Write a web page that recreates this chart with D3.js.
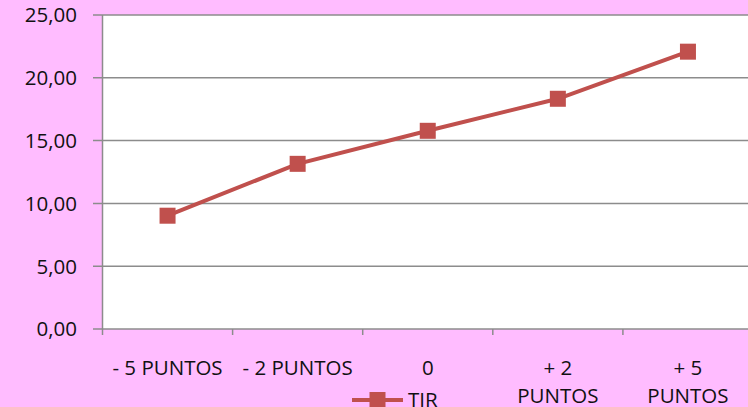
<!DOCTYPE html>
<html>
<head>
<meta charset="utf-8">
<script src="https://cdn.jsdelivr.net/npm/d3@7"></script>
<style>
  body { margin: 0; background: #FFBCFF; }
  svg { display: block; }
</style>
</head>
<body>
<div id="chart"></div>
<script>
var categories = ["- 5 PUNTOS", "- 2 PUNTOS", "0", "+ 2 PUNTOS", "+ 5 PUNTOS"];
var tickLines = [["- 5 PUNTOS"], ["- 2 PUNTOS"], ["0"], ["+ 2", "PUNTOS"], ["+ 5", "PUNTOS"]];
var tirValues = [9.02, 13.15, 15.78, 18.33, 22.08];
var yTicks = [0, 5, 10, 15, 20, 25];
var seriesName = "TIR";

var width = 748, height = 407;
var lineColor = "#C0504D";
var gridColor = "#8C8C8C";

var svg = d3.select("#chart").append("svg")
    .attr("width", width)
    .attr("height", height);

svg.append("rect")
    .attr("width", width).attr("height", height)
    .attr("fill", "#FFBCFF");

// plot area runs past the right edge, like the original crop
var x = d3.scaleBand()
    .domain(categories)
    .range([102.5, 753]);

var y = d3.scaleLinear()
    .domain([0, 25])
    .range([329, 15]);

svg.append("rect")
    .attr("x", 102.5).attr("y", y(25))
    .attr("width", 753 - 102.5).attr("height", y(0) - y(25))
    .attr("fill", "white");

/* horizontal grid lines + y tick marks */
svg.selectAll("line.grid")
    .data(yTicks)
    .enter().append("line")
    .attr("class", "grid")
    .attr("x1", 93).attr("x2", width)
    .attr("y1", function (d) { return y(d); })
    .attr("y2", function (d) { return y(d); })
    .attr("stroke", gridColor)
    .attr("stroke-width", 1.5);

// y axis line
svg.append("line")
    .attr("x1", 102.5).attr("x2", 102.5)
    .attr("y1", y(25)).attr("y2", y(0))
    .attr("stroke", gridColor).attr("stroke-width", 1.5);

svg.selectAll("text.ylab")
    .data(yTicks)
    .enter().append("text")
    .attr("class", "ylab")
    .attr("x", 77)
    .attr("y", function (d) { return y(d); })
    .attr("dy", "0.36em")
    .attr("text-anchor", "end")
    .attr("font-family", "Open Sans")
    .attr("font-size", 20.5)
    .attr("fill", "#111")
    .text(function (d) { return d3.format(".2f")(d).replace(".", ","); });

/* x tick marks at band boundaries */
var bounds = categories.map(function (c) { return x(c); }).concat([x.range()[1]]);
svg.selectAll("line.xtick")
    .data(bounds)
    .enter().append("line")
    .attr("class", "xtick")
    .attr("x1", function (d) { return d; })
    .attr("x2", function (d) { return d; })
    .attr("y1", y(0)).attr("y2", y(0) + 6)
    .attr("stroke", gridColor).attr("stroke-width", 1.5);

var xlab = svg.selectAll("text.xlab")
    .data(categories)
    .enter().append("text")
    .attr("class", "xlab")
    .attr("x", function (d) { return x(d) + x.bandwidth() / 2; })
    .attr("y", 375)
    .attr("text-anchor", "middle")
    .attr("font-family", "Open Sans")
    .attr("font-size", 20.5)
    .attr("fill", "#111");

xlab.each(function (d, i) {
    var t = d3.select(this);
    tickLines[i].forEach(function (ln, j) {
        t.append("tspan")
            .attr("x", x(d) + x.bandwidth() / 2)
            .attr("dy", j === 0 ? 0 : 28)
            .text(ln);
    });
});

/* the series */
var line = d3.line()
    .x(function (d, i) { return x(categories[i]) + x.bandwidth() / 2; })
    .y(function (d) { return y(d); });

svg.append("path")
    .datum(tirValues)
    .attr("d", line)
    .attr("fill", "none")
    .attr("stroke", lineColor)
    .attr("stroke-width", 4);

var ms = 16;
svg.selectAll("rect.marker")
    .data(tirValues)
    .enter().append("rect")
    .attr("class", "marker")
    .attr("x", function (d, i) { return x(categories[i]) + x.bandwidth() / 2 - ms / 2; })
    .attr("y", function (d) { return y(d) - ms / 2; })
    .attr("width", ms).attr("height", ms)
    .attr("fill", lineColor);

/* legend, cut by the bottom edge */
var lg = svg.append("g").attr("transform", "translate(352,400)");
lg.append("line")
    .attr("x1", 0).attr("x2", 51)
    .attr("stroke", lineColor).attr("stroke-width", 4);
lg.append("rect")
    .attr("x", 25.5 - ms / 2).attr("y", -ms / 2)
    .attr("width", ms).attr("height", ms)
    .attr("fill", lineColor);
lg.append("text")
    .attr("x", 56).attr("y", 7)
    .attr("font-family", "Open Sans")
    .attr("font-size", 20.5)
    .attr("fill", "#111")
    .text(seriesName);
</script>
</body>
</html>
